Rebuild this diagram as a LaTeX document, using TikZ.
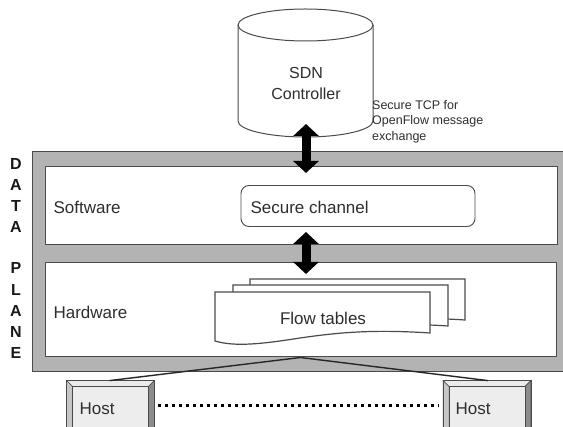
\documentclass[tikz,border=0pt]{standalone}
\usepackage{fontspec}
\setmainfont{Liberation Sans}
\usetikzlibrary{arrows.meta,calc}
\definecolor{edge}{HTML}{4A4A4A}
\definecolor{band}{HTML}{B3B3B3}
\definecolor{face}{HTML}{EDEDED}
\definecolor{ink}{HTML}{2E2E2E}
\begin{document}
\begin{tikzpicture}[x=1pt,y=-1pt,
  font=\fontsize{17}{20}\selectfont,
  every node/.style={text=ink},
  layerbox/.style={draw=edge,line width=1pt,fill=white,inner sep=0pt},
  chanbox/.style={draw=edge,line width=0.9pt,fill=white,rounded corners=8pt,inner sep=0pt,minimum width=234pt,minimum height=41pt},
  docshape/.style={draw=edge,line width=1.2pt,fill=white},
  dblarrow/.style={line width=9pt,{Triangle[width=25pt,length=12pt]}-{Triangle[width=25pt,length=12pt]}},
  hostouter/.style={draw=edge,line width=0.8pt,fill=band,minimum width=87pt,minimum height=52pt,inner sep=0pt},
  hostlink/.style={draw=black!85,line width=1.4pt},
  vlabel/.style={font=\fontsize{16}{16}\selectfont\bfseries,anchor=center,text=black!90},
  note/.style={font=\fontsize{12.5}{15.5}\selectfont,align=left,anchor=north west,inner sep=0pt}
]
\useasboundingbox (0,0) rectangle (563,427);
\fill[white] (0,0) rectangle (563,427);

% data plane frame
\draw[draw=edge,line width=1pt,fill=band] (32,152) rectangle (575,372);
\node[layerbox,minimum width=512pt,minimum height=78pt] (sw) at (301,206) {};
\node[layerbox,minimum width=511pt,minimum height=94pt] (hw) at (300.5,310) {};
\node[anchor=west] (swl) at (50,207) {Software};
\node[anchor=west] (hwl) at (50,312) {Hardware};

% DATA PLANE letters
\foreach \ch/\yy [count=\i] in {D/164,A/185,T/206,A/227,P/268,L/290,A/311,N/332,E/353}
  \node[vlabel] (dp\i) at (16,\yy) {\ch};

% SDN controller cylinder
\coordinate (cyl) at (305.5,25);
\draw[draw=edge,line width=1pt,fill=white]
  (238,25) -- (238,121) arc[start angle=180,end angle=360,x radius=67.5,y radius=-16] -- (373,25);
\draw[draw=edge,line width=1pt,fill=white] (cyl) ellipse[x radius=67.5,y radius=16];
\node[align=center,font=\fontsize{16}{21}\selectfont] (ctrl) at (306,83) {SDN\\Controller};
\node[note] (tcp) at (372,100) {Secure TCP for\\OpenFlow message\\exchange};

% secure channel
\node[chanbox] (chan) at (358,206) {};
\node[anchor=west] (chanl) at (247,207) {Secure channel};

% flow tables
\begin{scope}[shift={(35,-13)}]
\draw[docshape] (215,292) -- (430,292) -- (430,333) .. controls (370,329) and (335,333) .. (300,338) .. controls (262,344) and (235,347) .. (215,341) -- cycle;
\end{scope}
\begin{scope}[shift={(18,-7)}]
\draw[docshape] (215,292) -- (430,292) -- (430,333) .. controls (370,329) and (335,333) .. (300,338) .. controls (262,344) and (235,347) .. (215,341) -- cycle;
\end{scope}
\draw[docshape] (215,292) -- (430,292) -- (430,333) .. controls (370,329) and (335,333) .. (300,338) .. controls (262,344) and (235,347) .. (215,341) -- cycle;
\node (flow) at (323,318) {Flow tables};

% arrows
\coordinate (a1t) at (306,124);
\coordinate (a1b) at (306,173);
\coordinate (a2t) at (306,232);
\coordinate (a2b) at (306,274);
\draw[dblarrow] (a1t) -- (a1b);
\draw[dblarrow] (a2t) -- (a2b);

% hosts
\node[hostouter] (h1) at (110.5,407) {};
\node[hostouter] (h2) at (487,407) {};
\foreach \h in {h1,h2}{
  \fill[white!92!black,draw=edge,line width=0.5pt] (\h.north west) -- (\h.north east) -- ($(\h.north east)+(-6,6)$) -- ($(\h.north west)+(6,6)$) -- cycle;
  \fill[black!45,draw=edge,line width=0.5pt] (\h.north east) -- (\h.south east) -- ($(\h.south east)+(-6,-6)$) -- ($(\h.north east)+(-6,6)$) -- cycle;
  \fill[black!22,draw=edge,line width=0.5pt] (\h.north west) -- (\h.south west) -- ($(\h.south west)+(6,-6)$) -- ($(\h.north west)+(6,6)$) -- cycle;
  \fill[face,draw=edge,line width=0.6pt] ($(\h.north west)+(6,6)$) rectangle ($(\h.south east)+(-6,-6)$);
  \draw[draw=edge,line width=0.8pt] (\h.north west) rectangle (\h.south east);
}
\node[anchor=west] (h1l) at (76,409) {Host};
\node[anchor=west] (h2l) at (452,409) {Host};
\draw[line width=3pt,dash pattern=on 3pt off 4pt] ($(h1.east)+(4,-1)$) -- ($(h2.west)+(-4,-1)$);

\draw[hostlink] (hw.south) -- ($(h1.north)+(-1,0)$);
\draw[hostlink] (hw.south) -- ($(h2.north)+(1,0)$);
\end{tikzpicture}
\end{document}
